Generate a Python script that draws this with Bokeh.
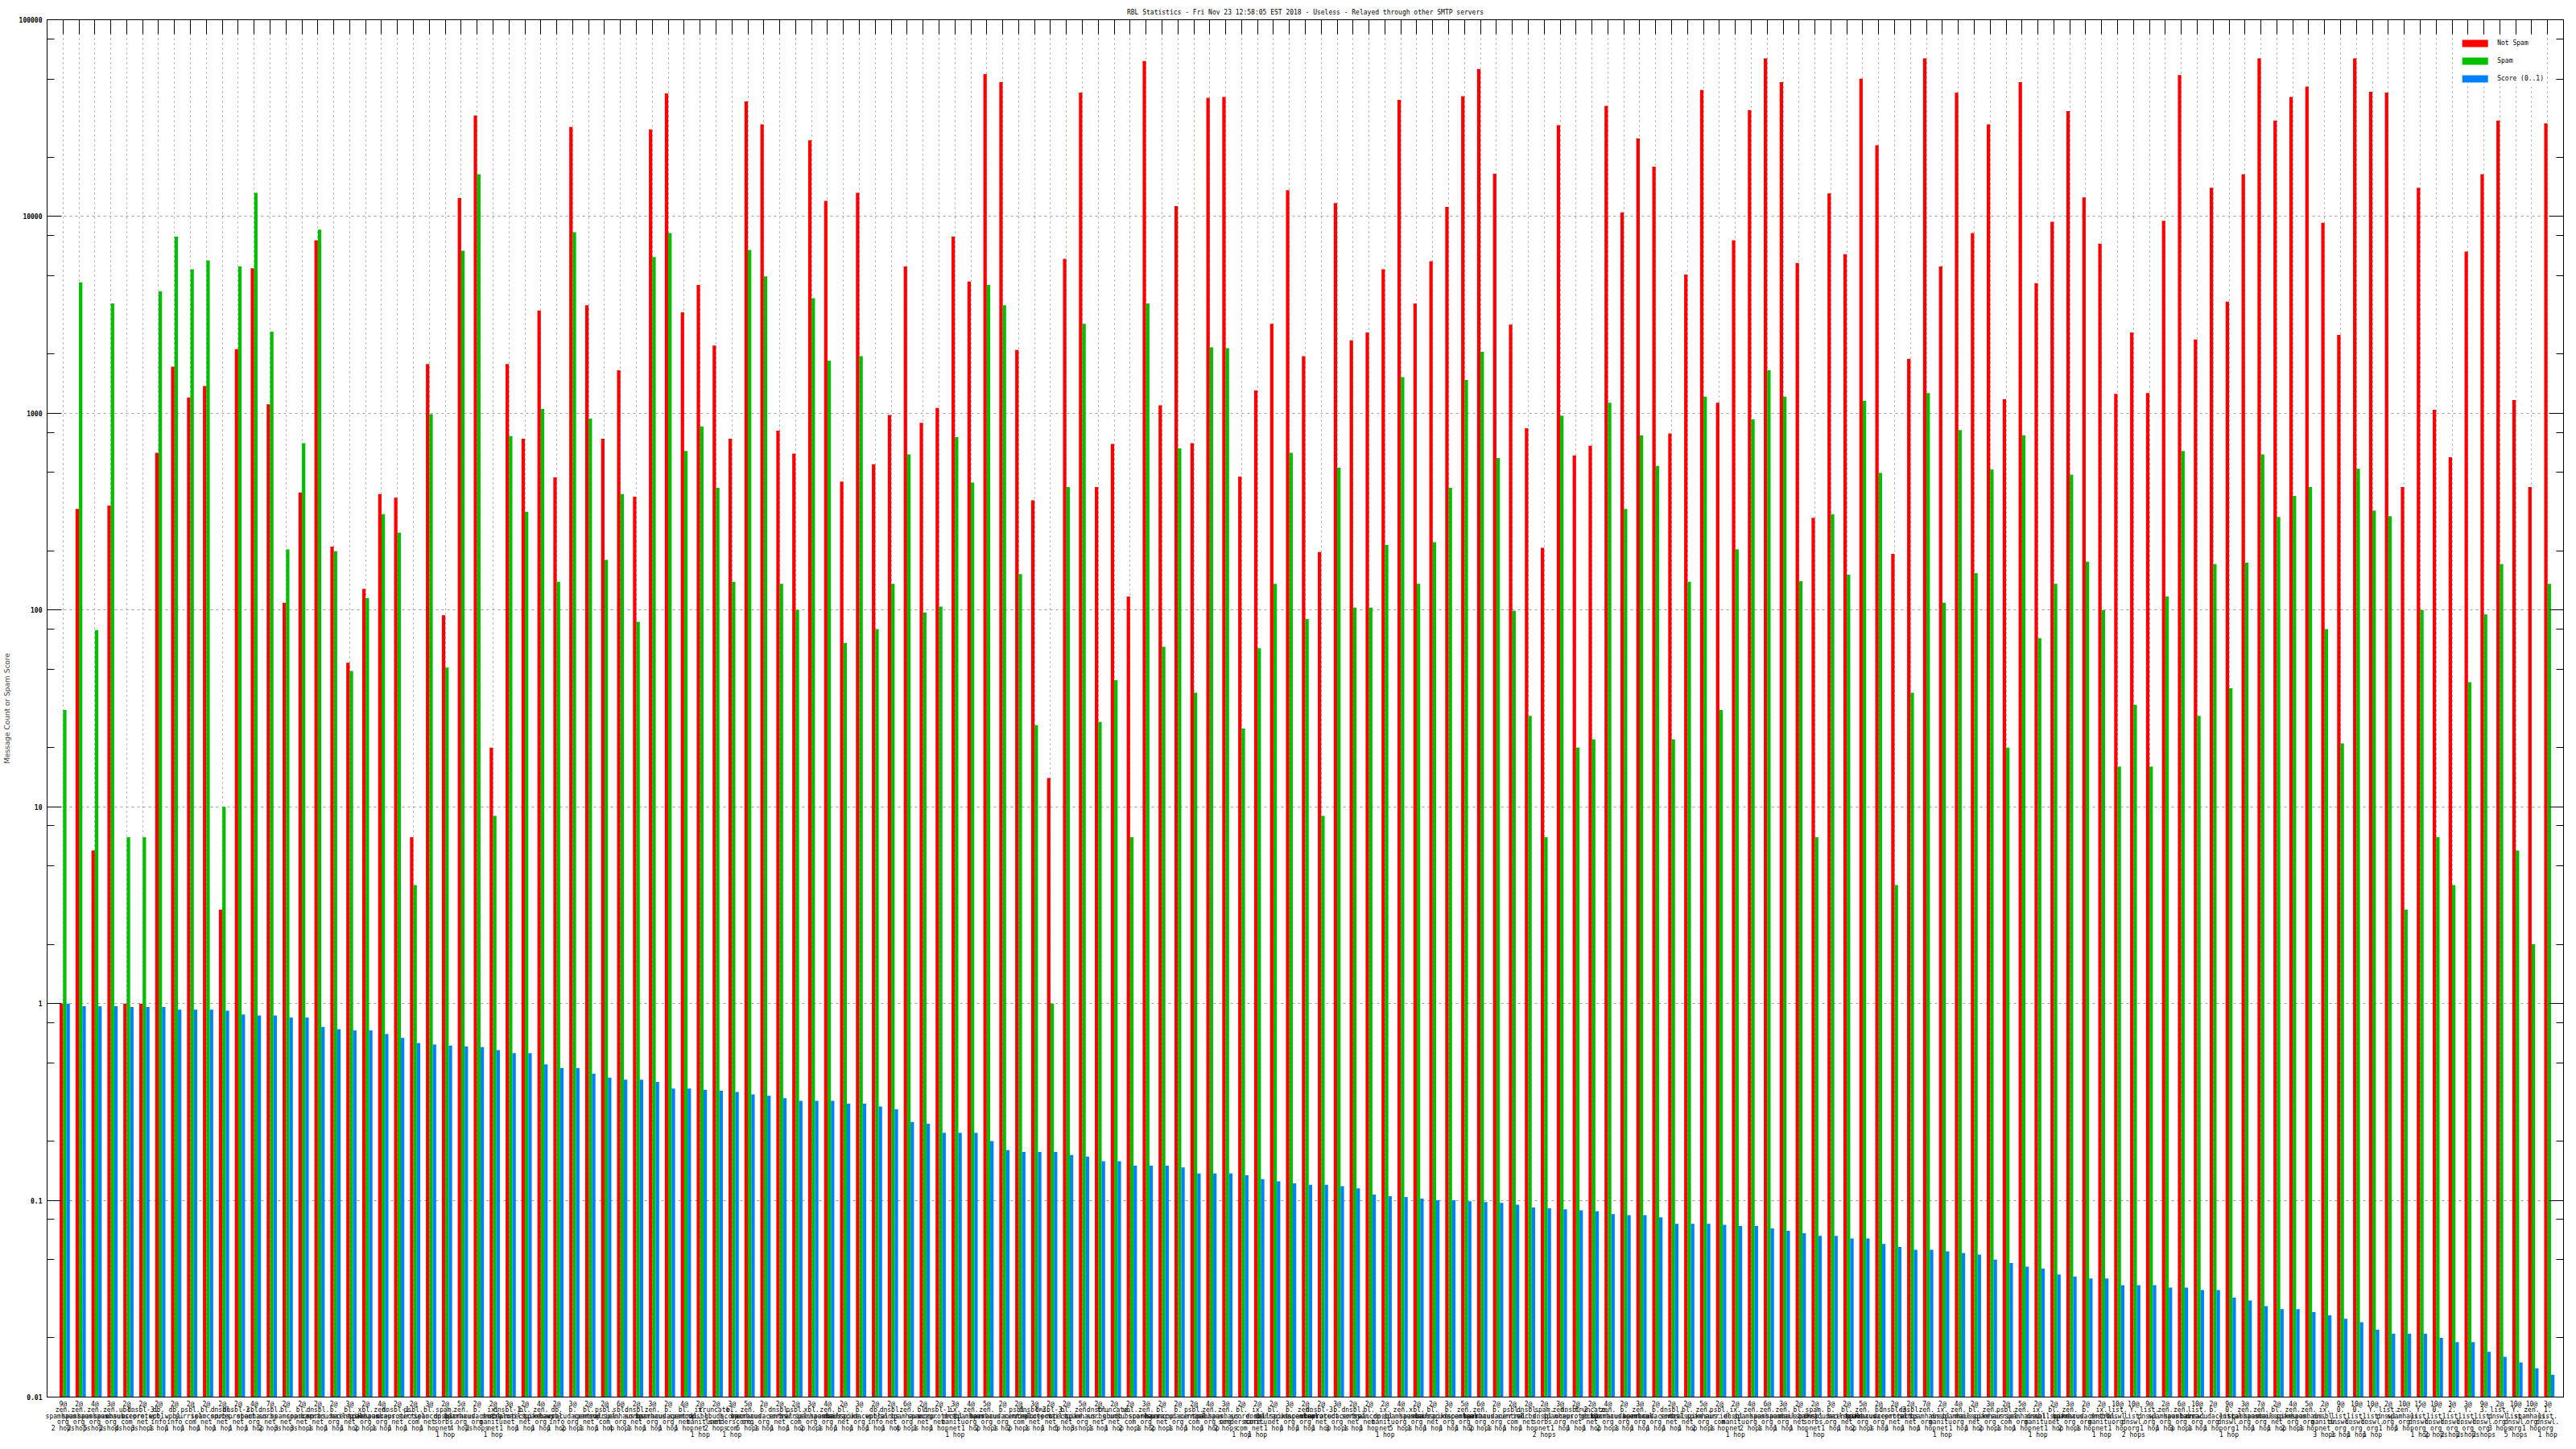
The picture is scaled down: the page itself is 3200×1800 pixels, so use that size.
from bokeh.plotting import figure
from bokeh.models import ColumnDataSource, Range1d, FixedTicker, LinearAxis, LogAxis
from bokeh.transform import dodge
from bokeh.embed import file_html
from bokeh.resources import INLINE

# ---------------- data ----------------
not_spam = [1, 326, 6, 340, 1, 1, 630, 1725, 1203, 1375,
            3, 2118, 5450, 1109, 109, 396, 7576, 210, 54, 128,
            388, 372, 7, 1778, 94, 12400, 32600, 20, 1778, 743,
            3330, 472, 28500, 3540, 743, 1655, 377, 27700, 42200, 3260,
            4485, 2208, 743, 38400, 29400, 815, 623, 24400, 12000, 449,
            13200, 551, 980, 5570, 893, 1064, 7890, 4670, 52900, 48200,
            2096, 361, 14, 6100, 42600, 422, 698, 117, 61700, 1097,
            11300, 705, 40100, 40500, 477, 1306, 2850, 13600, 1950, 197,
            11700, 2350, 2575, 5395, 39200, 3614, 5920, 11200, 40900, 56200,
            16500, 2824, 839, 207, 29100, 611, 684, 36500, 10500, 24900,
            17900, 790, 5070, 44000, 1132, 7576, 34700, 63600, 48200, 5800,
            294, 13100, 6430, 50200, 23000, 193, 1890, 63600, 5570, 42600,
            8230, 29400, 1180, 48200, 4580, 9400, 34300, 12500, 7270, 1254,
            2575, 1268, 9500, 52300, 2370, 14000, 3690, 16400, 63600, 30700,
            40500, 45800, 9300, 2500, 63600, 43000, 42600, 422, 14000, 1042,
            598, 6630, 16400, 30700, 1167, 422, 29700]

spam = [31, 4624, 79, 3614, 7, 7, 4175, 7893, 5395, 5980,
        10, 5568, 13200, 2600, 203, 705, 8570, 199, 49, 115,
        307, 247, 4, 990, 51, 6700, 16400, 9, 765, 316,
        1052, 139, 8310, 940, 180, 388, 87, 6230, 8230, 643,
        857, 418, 139, 6760, 4970, 136, 100, 3845, 1853, 68,
        1950, 80, 136, 617, 97, 104, 757, 444, 4490, 3540,
        152, 26, 1, 422, 2850, 27, 44, 7, 3614, 65,
        663, 38, 2160, 2140, 25, 64, 136, 630, 90, 9,
        529, 103, 103, 214, 1525, 136, 221, 418, 1478, 2053,
        592, 99, 29, 7, 970, 20, 22, 1132, 326, 773,
        540, 22, 139, 1215, 31, 203, 930, 1655, 1215, 140,
        7, 307, 151, 1155, 497, 4, 38, 1268, 109, 822,
        154, 518, 20, 773, 72, 136, 487, 176, 100, 16,
        33, 16, 117, 643, 29, 171, 40, 174, 617, 297,
        380, 422, 80, 21, 523, 320, 300, 3, 100, 7,
        4, 43, 95, 171, 6, 2, 136]

score = [1.0, 0.97, 0.97, 0.97, 0.96, 0.96, 0.96, 0.93, 0.93, 0.93,
         0.92, 0.88, 0.87, 0.87, 0.85, 0.85, 0.76, 0.74, 0.73, 0.73,
         0.70, 0.67, 0.63, 0.62, 0.61, 0.605, 0.60, 0.58, 0.56, 0.56,
         0.49, 0.47, 0.47, 0.44, 0.42, 0.41, 0.41, 0.40, 0.37, 0.37,
         0.365, 0.36, 0.355, 0.345, 0.34, 0.33, 0.32, 0.32, 0.32, 0.31,
         0.31, 0.30, 0.29, 0.25, 0.245, 0.22, 0.22, 0.22, 0.20, 0.18,
         0.176, 0.176, 0.176, 0.17, 0.167, 0.158, 0.158, 0.15, 0.15, 0.15,
         0.147, 0.137, 0.137, 0.137, 0.134, 0.128, 0.125, 0.122, 0.12, 0.12,
         0.118, 0.115, 0.107, 0.105, 0.104, 0.102, 0.10, 0.10, 0.099, 0.098,
         0.097, 0.095, 0.092, 0.091, 0.09, 0.089, 0.088, 0.085, 0.084, 0.084,
         0.082, 0.076, 0.076, 0.076, 0.075, 0.074, 0.074, 0.072, 0.07, 0.068,
         0.066, 0.066, 0.064, 0.064, 0.06, 0.058, 0.056, 0.056, 0.055, 0.054,
         0.053, 0.05, 0.048, 0.046, 0.045, 0.042, 0.041, 0.04, 0.04, 0.037,
         0.037, 0.037, 0.036, 0.036, 0.035, 0.035, 0.032, 0.031, 0.029, 0.028,
         0.028, 0.027, 0.026, 0.025, 0.024, 0.022, 0.021, 0.021, 0.021, 0.02,
         0.019, 0.019, 0.017, 0.016, 0.015, 0.014, 0.013]

# tick label parts: "<score>@" / rbl host (one line per dot) / "<n> hops"
rbl_hosts = ["zen.spamhaus.org", "ubl.unsubscore.com", "dnsbl-3.uceprotect.net",
             "db.wpbl.info", "psbl.surriel.com", "bl.spamcop.net", "dnsbl.sorbs.net",
             "dnsbl-2.uceprotect.net", "sbl.spamhaus.org", "b.barracudacentral.org",
             "bl.mailspike.net", "ix.dnsbl.manitu.net", "list.dnswl.org",
             "0.list.dnswl.org", "Y.list.dnswl.org", "2.list.dnswl.org",
             "3.list.dnswl.org", "1.list.dnswl.org", "dnsbl-1.uceprotect.net",
             "xbl.spamhaus.org", "spam.dnsbl.sorbs.net", "truncate.gbudb.net",
             "bl.score.senderscore.com"]

label_host_index = [0, 0, 0, 0, 1, 2, 3, 3, 4, 5, 6, 7, 8, 6, 5, 5, 6,
                    9, 10, 19, 0, 18, 4, 5, 20, 0, 9, 11, 18, 10,
                    0, 3, 9, 5, 4, 8, 6, 0, 9, 5,
                    11, 21, 22, 0, 9, 6, 4, 19, 0, 10,
                    9, 3, 6, 0, 5, 18, 11, 0, 0, 9,
                    4, 7, 2, 10, 0, 6, 21, 1, 0, 5,
                    9, 4, 0, 0, 22, 11, 10, 9, 0, 2,
                    9, 6, 5, 11, 0, 19, 10, 9, 0, 0,
                    9, 4, 6, 20, 0, 7, 21, 0, 9, 0,
                    9, 6, 10, 0, 4, 11, 0, 0, 0, 10,
                    20, 9, 10, 0, 9, 2, 6, 0, 11, 0,
                    10, 0, 4, 0, 11, 10, 0, 9, 11, 12,
                    14, 12, 0, 0, 12, 9, 13, 0, 0, 10,
                    0, 0, 11, 13, 13, 14, 12, 0, 14, 13,
                    15, 14, 16, 12, 14, 0, 17]

label_scores = [9, 2, 4, 3, 2, 2, 2, 2, 2, 2, 2, 2, 4, 7, 2, 2, 2,
                2, 3, 2, 4, 2, 2, 3, 2, 5, 2, 2, 3, 2,
                4, 2, 3, 2, 2, 6, 2, 3, 2, 4,
                2, 2, 3, 5, 2, 2, 2, 3, 4, 2,
                3, 2, 2, 6, 2, 2, 3, 4, 5, 2,
                2, 3, 2, 2, 5, 2, 2, 2, 3, 2,
                2, 2, 4, 3, 2, 2, 2, 3, 2, 2,
                3, 2, 2, 2, 4, 2, 2, 3, 5, 6,
                2, 2, 2, 2, 3, 2, 2, 4, 2, 3,
                2, 2, 2, 5, 2, 2, 4, 6, 3, 2,
                2, 3, 2, 5, 2, 2, 2, 7, 2, 4,
                2, 3, 2, 5, 2, 2, 3, 2, 2, 10,
                10, 9, 2, 6, 10, 2, 9, 3, 7, 2,
                4, 5, 2, 9, 10, 10, 2, 10, 15, 10,
                3, 3, 9, 2, 10, 10, 3]

label_hops = [2, 2, 5, 2, 4, 3, 1, 1, 1, 1, 1, 1, 1, 2, 3, 3, 1,
              1, 1, 2, 1, 1, 1, 1, 1, 4, 2, 1, 1, 1,
              1, 1, 2, 1, 1, 4, 1, 1, 1, 1,
              1, 2, 1, 5, 1, 1, 1, 2, 1, 1,
              1, 1, 1, 4, 1, 1, 1, 1, 2, 1,
              2, 1, 1, 5, 3, 1, 1, 2, 1, 2,
              1, 1, 1, 2, 1, 1, 1, 1, 1, 1,
              3, 1, 1, 1, 5, 1, 1, 1, 1, 2,
              1, 1, 1, 2, 1, 1, 1, 2, 1, 1,
              1, 1, 1, 2, 1, 1, 2, 1, 1, 1,
              1, 1, 1, 2, 1, 1, 1, 1, 1, 1,
              1, 2, 1, 1, 1, 1, 2, 1, 1, 1,
              2, 1, 1, 3, 1, 1, 1, 1, 1, 1,
              2, 1, 3, 1, 1, 1, 1, 1, 1, 2,
              2, 2, 2, 3, 5, 1, 1]

y_ticks = [0.01, 0.1, 1, 10, 100, 1000, 10000, 100000]
y_tick_labels = ["0.01", "0.1", "1", "10", "100", "1000", "10000", "100000"]
y_minor_mantissas = [2, 5, 8]

title_text = "RBL Statistics - Fri Nov 23 12:58:05 EST 2018 - Useless - Relayed through other SMTP servers"

# ---------------- build labels ----------------
def make_label(s, host, hops):
    parts = host.split(".")
    lines = [f"{s}@"] + [q + "." for q in parts[:-1]] + [parts[-1]]
    lines.append(f"{hops} hop" + ("s" if hops > 1 else ""))
    return "\n".join(lines)

n = len(not_spam)
idx = list(range(n))
x_labels = {i: make_label(label_scores[i], rbl_hosts[label_host_index[i]], label_hops[i]) for i in idx}
y_minor = [m * t for t in y_ticks[:-1] for m in y_minor_mantissas]

RED, GREEN, BLUE = "#ff0000", "#00c000", "#0080ff"
MONO = "DejaVu Sans Mono"

src = ColumnDataSource(dict(x=idx, not_spam=not_spam, spam=spam, score=score))

p = figure(width=3192, height=1792,
           x_range=Range1d(-1, n), y_range=Range1d(0.01, 100000),
           y_axis_type="log", output_backend="svg", toolbar_location=None,
           min_border_left=55, min_border_right=8, min_border_top=24, min_border_bottom=57,
           title=title_text)
p.background_fill_color = "white"
p.border_fill_color = "white"
p.outline_line_color = "black"
p.outline_line_width = 1

p.title.align = "center"
p.title.text_font = MONO
p.title.text_font_size = "8px"
p.title.text_font_style = "normal"
p.title.text_color = "black"
p.title.standoff = 9

bw = 0.215
p.vbar(x=dodge("x", -bw / 2), top="not_spam", bottom=0.01, width=bw, source=src,
       fill_color=RED, line_color=None, legend_label="Not Spam")
p.vbar(x=dodge("x", bw / 2), top="spam", bottom=0.01, width=bw, source=src,
       fill_color=GREEN, line_color=None, legend_label="Spam")
p.vbar(x=dodge("x", 1.5 * bw), top="score", bottom=0.01, width=bw, source=src,
       fill_color=BLUE, line_color=None, legend_label="Score (0..1)")

# grids
p.xgrid.ticker = FixedTicker(ticks=idx)
p.xgrid.grid_line_color = "#a0a0a0"
p.xgrid.grid_line_dash = "2 4"
p.ygrid.ticker = FixedTicker(ticks=y_ticks)
p.ygrid.grid_line_color = "#a0a0a0"
p.ygrid.grid_line_dash = "3 4"

# bottom axis: category labels
xa = p.xaxis[0]
xa.ticker = FixedTicker(ticks=idx, minor_ticks=[])
xa.major_label_overrides = x_labels
xa.major_tick_line_color = None
xa.minor_tick_line_color = None
xa.major_tick_in = 0
xa.major_tick_out = 0
xa.major_label_standoff = 4
xa.major_label_text_font = MONO
xa.major_label_text_font_size = "8px"
xa.major_label_text_line_height = 0.85
xa.major_label_text_color = "black"
xa.axis_line_color = "black"

# left axis
ya = p.yaxis[0]
ya.ticker = FixedTicker(ticks=y_ticks, minor_ticks=y_minor)
ya.major_label_overrides = dict(zip(y_ticks, y_tick_labels))
ya.major_tick_in = 18
ya.major_tick_out = 0
ya.minor_tick_in = 9
ya.minor_tick_out = 0
ya.major_tick_line_color = "black"
ya.minor_tick_line_color = "black"
ya.major_label_standoff = 6
ya.major_label_text_font = MONO
ya.major_label_text_font_size = "8px"
ya.major_label_text_font_style = "bold"
ya.major_label_text_color = "black"
ya.axis_label = "Message Count or Spam Score"
ya.axis_label_text_font = "DejaVu Sans"
ya.axis_label_text_font_size = "9px"
ya.axis_label_text_font_style = "normal"
ya.axis_label_standoff = 7
ya.axis_line_color = "black"

# mirrored axes (ticks only, labels not painted)
top = LinearAxis(ticker=FixedTicker(ticks=idx, minor_ticks=[]),
                 major_tick_in=18, major_tick_out=0,
                 major_label_text_font_size="1px", major_label_text_color=None,
                 major_label_standoff=0, minor_tick_line_color=None,
                 major_tick_line_color="black", axis_line_color="black")
p.add_layout(top, "above")
right = LogAxis(ticker=FixedTicker(ticks=y_ticks, minor_ticks=y_minor),
                major_tick_in=18, major_tick_out=0, minor_tick_in=9, minor_tick_out=0,
                major_label_text_font_size="1px", major_label_text_color=None,
                major_label_standoff=0,
                major_tick_line_color="black", minor_tick_line_color="black",
                axis_line_color="black")
p.add_layout(right, "right")

# legend
lg = p.legend[0]
lg.location = "top_right"
lg.border_line_color = None
lg.background_fill_color = "white"
lg.background_fill_alpha = 1.0
lg.label_text_font = MONO
lg.label_text_font_size = "8px"
lg.label_text_color = "black"
lg.glyph_width = 40
lg.glyph_height = 11
lg.spacing = 11
lg.padding = 6
lg.margin = 24
lg.label_standoff = 8

open("out.html", "w").write(file_html(p, INLINE))
